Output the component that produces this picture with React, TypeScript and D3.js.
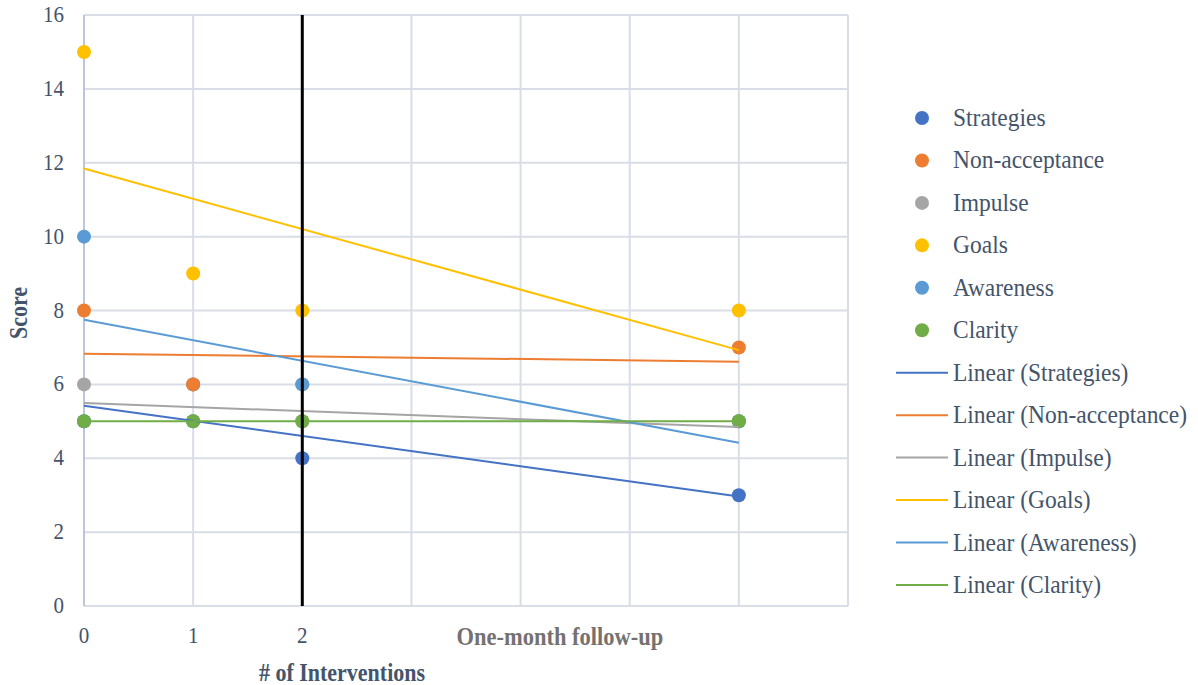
import React from "react";
import * as d3 from "d3";

// Session positions on the x axis (0, 1, 2 interventions, then follow-up)
const sessions = [0, 1, 2, 6];

const seriesNames = ["Strategies", "Non-acceptance", "Impulse", "Goals", "Awareness", "Clarity"];
const seriesColors = ["#4472C4", "#ED7D31", "#A5A5A5", "#FFC000", "#5B9BD5", "#70AD47"];

const strategies = [5, 6, 4, 3];
const nonAcceptance = [8, 6, 6, 7];
const impulse = [6, 5, 5, 5];
const goals = [15, 9, 8, 8];
const awareness = [10, 5, 6, 5];
const clarity = [5, 5, 5, 5];

const seriesValues = [strategies, nonAcceptance, impulse, goals, awareness, clarity];

const yTicks = [0, 2, 4, 6, 8, 10, 12, 14, 16];
const xGrid = [0, 1, 2, 3, 4, 5, 6, 7];
const xTickLabels = ["0", "1", "2"];
const followUpLabel = "One-month follow-up";
const followUpPos = 4.36;
const dividerAt = 2;

const W = 1198;
const H = 685;
const plot = { left: 84, right: 848, top: 15, bottom: 606 };

const textColor = "#44546A";
const serif = "Liberation Serif";

function linearFit(xs: number[], ys: number[]) {
  const mx = d3.mean(xs)!;
  const my = d3.mean(ys)!;
  let sxy = 0;
  let sxx = 0;
  xs.forEach((x, i) => {
    sxy += (x - mx) * (ys[i] - my);
    sxx += (x - mx) * (x - mx);
  });
  const slope = sxy / sxx;
  const intercept = my - slope * mx;
  return (x: number) => intercept + slope * x;
}

export default function App() {
  const x = d3.scaleLinear().domain([0, 7]).range([plot.left, plot.right]);
  const y = d3.scaleLinear().domain([0, 16]).range([plot.bottom, plot.top]);
  const [x0, x1] = d3.extent(sessions) as [number, number];

  const legendItems = [
    ...seriesNames.map((n, i) => ({ label: n, color: seriesColors[i], kind: "dot" })),
    ...seriesNames.map((n, i) => ({ label: `Linear (${n})`, color: seriesColors[i], kind: "line" })),
  ];
  const legendTop = 118;
  const legendStep = 42.45;

  return (
    <svg width={W} height={H} style={{ position: "fixed", left: 0, top: 0, background: "#fff" }}>
      {/* gridlines */}
      {yTicks.map((t) => (
        <line key={"h" + t} x1={plot.left} x2={plot.right} y1={y(t)} y2={y(t)} stroke="#D9DDE6" strokeWidth={2} />
      ))}
      {xGrid.map((t) => (
        <line key={"v" + t} x1={x(t)} x2={x(t)} y1={plot.top} y2={plot.bottom} stroke="#D9DDE6" strokeWidth={2} />
      ))}
      <line x1={x(0)} x2={x(0)} y1={plot.top} y2={plot.bottom} stroke="#BCC6D8" strokeWidth={2} />

      {/* y tick labels */}
      {yTicks.map((t) => (
        <text
          key={"yt" + t}
          transform={`translate(64,${y(t) + 7}) scale(1,1.1)`}
          textAnchor="end"
          fontFamily={serif}
          fontSize={21}
          fill={textColor}
        >
          {t}
        </text>
      ))}

      {/* x tick labels */}
      {xTickLabels.map((l, i) => (
        <text
          key={"xt" + l}
          transform={`translate(${x(i)},${643}) scale(1,1.1)`}
          textAnchor="middle"
          fontFamily={serif}
          fontSize={21}
          fill={textColor}
        >
          {l}
        </text>
      ))}
      <text
        transform={`translate(${x(followUpPos)},${645}) scale(1,1.12)`}
        textAnchor="middle"
        fontFamily={serif}
        fontSize={22.5}
        fontWeight="bold"
        fill="#767171"
      >
        {followUpLabel}
      </text>

      {/* axis titles */}
      <text
        transform={`translate(342,681) scale(1,1.12)`}
        textAnchor="middle"
        fontFamily={serif}
        fontSize={22}
        fontWeight="bold"
        fill={textColor}
      >
        # of Interventions
      </text>
      <text
        transform={`translate(27,313) rotate(-90) scale(1,1.12)`}
        textAnchor="middle"
        fontFamily={serif}
        fontSize={22}
        fontWeight="bold"
        fill={textColor}
      >
        Score
      </text>

      {/* markers */}
      {seriesValues.map((vals, si) =>
        vals.map((v, i) => (
          <circle key={`m${si}-${i}`} cx={x(sessions[i])} cy={y(v)} r={7} fill={seriesColors[si]} />
        ))
      )}

      {/* linear trendlines */}
      {seriesValues.map((vals, si) => {
        const f = linearFit(sessions, vals);
        return (
          <line
            key={"tr" + si}
            x1={x(x0)}
            x2={x(x1)}
            y1={y(f(x0))}
            y2={y(f(x1))}
            stroke={seriesColors[si]}
            strokeWidth={2}
          />
        );
      })}

      {/* divider after the intervention sessions */}
      <line x1={x(dividerAt)} x2={x(dividerAt)} y1={plot.top} y2={plot.bottom} stroke="#000" strokeWidth={3} />

      {/* legend */}
      {legendItems.map((item, i) => {
        const cy = legendTop + i * legendStep;
        return (
          <g key={"lg" + i}>
            {item.kind === "dot" ? (
              <circle cx={922} cy={cy} r={7} fill={item.color} />
            ) : (
              <line x1={896} x2={948} y1={cy} y2={cy} stroke={item.color} strokeWidth={2} />
            )}
            <text
              transform={`translate(953,${cy + 8}) scale(1,1.1)`}
              fontFamily={serif}
              fontSize={23.5}
              fill={textColor}
            >
              {item.label}
            </text>
          </g>
        );
      })}
    </svg>
  );
}
